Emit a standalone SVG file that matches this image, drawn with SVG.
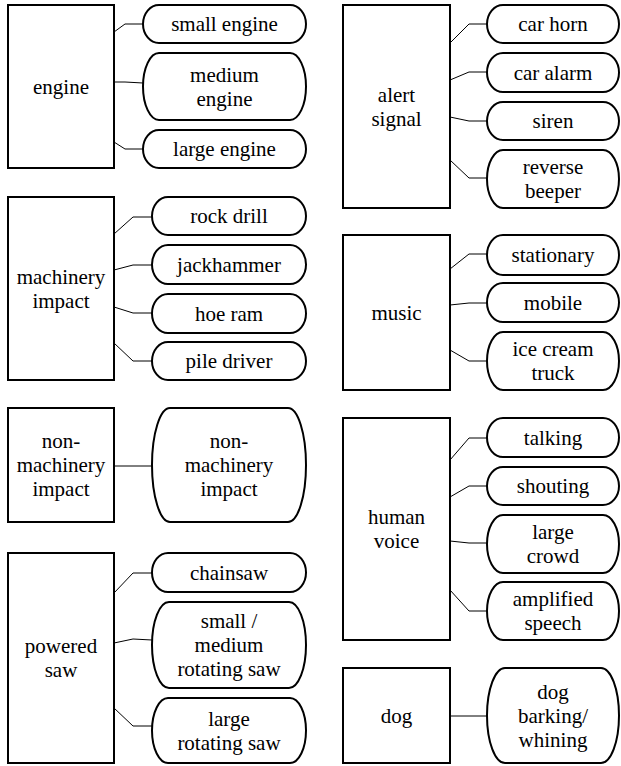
<svg xmlns="http://www.w3.org/2000/svg" width="621" height="766" viewBox="0 0 621 766" font-family="Liberation Serif, DejaVu Serif, Noto Serif, serif" font-size="21" text-anchor="middle">
<style>
.box{fill:#fff;stroke:#000;stroke-width:2}
.pill{fill:#fff;stroke:#000;stroke-width:2}
.c{fill:none;stroke:#000;stroke-width:1}
</style>
<rect width="621" height="766" fill="#fff"/>
<g id="connectors">
<polyline class="c" points="114,32 125,24 143,24"/>
<polyline class="c" points="114,82 125,82 143,83"/>
<polyline class="c" points="114,142 125,149 143,149"/>
<polyline class="c" points="114,234 133,217 152,217"/>
<polyline class="c" points="114,270 133,265 152,265"/>
<polyline class="c" points="114,307 133,313 152,313"/>
<polyline class="c" points="114,343 133,361 152,361"/>
<polyline class="c" points="114,466 152,466"/>
<polyline class="c" points="114,593 133,573 152,573"/>
<polyline class="c" points="114,643 133,639 152,640"/>
<polyline class="c" points="114,708 133,726 152,726"/>
<polyline class="c" points="450,43 469,24 487,24"/>
<polyline class="c" points="450,80 469,72 487,72"/>
<polyline class="c" points="450,117 469,121 487,121"/>
<polyline class="c" points="450,160 469,178 487,178"/>
<polyline class="c" points="450,269 469,254 487,254"/>
<polyline class="c" points="450,305 469,303 487,303"/>
<polyline class="c" points="450,350 469,361 487,361"/>
<polyline class="c" points="450,460 469,438 487,438"/>
<polyline class="c" points="450,497 469,486 487,486"/>
<polyline class="c" points="450,541 469,543 487,543"/>
<polyline class="c" points="450,590 469,611 487,611"/>
<polyline class="c" points="450,716 487,716"/>
</g>
<g id="engine"><rect class="box" x="8" y="5" width="106" height="163"/><text x="61" y="93.5">engine</text></g>
<g id="small-engine"><rect class="pill" x="143" y="5" width="163" height="38" rx="16" ry="19"/><text x="224.5" y="31">small engine</text></g>
<g id="medium-engine"><rect class="pill" x="143" y="53" width="163" height="67" rx="16" ry="33.5"/><text x="224.5" y="81.5">medium</text><text x="224.5" y="105.5">engine</text></g>
<g id="large-engine"><rect class="pill" x="143" y="130" width="163" height="38" rx="16" ry="19"/><text x="224.5" y="156">large engine</text></g>
<g id="machinery-impact"><rect class="box" x="8" y="197" width="106" height="183"/><text x="61" y="283.5">machinery</text><text x="61" y="307.5">impact</text></g>
<g id="rock-drill"><rect class="pill" x="152" y="197" width="154" height="38" rx="16" ry="19"/><text x="229" y="223">rock drill</text></g>
<g id="jackhammer"><rect class="pill" x="152" y="245" width="154" height="39" rx="16" ry="19.5"/><text x="229" y="271.5">jackhammer</text></g>
<g id="hoe-ram"><rect class="pill" x="152" y="294" width="154" height="39" rx="16" ry="19.5"/><text x="229" y="320.5">hoe ram</text></g>
<g id="pile-driver"><rect class="pill" x="152" y="342" width="154" height="38" rx="16" ry="19"/><text x="229" y="368">pile driver</text></g>
<g id="non-machinery-impact"><rect class="box" x="8" y="408" width="106" height="114"/><text x="61" y="448">non-</text><text x="61" y="472">machinery</text><text x="61" y="496">impact</text></g>
<g id="non-machinery-impact-leaf"><rect class="pill" x="152" y="408" width="154" height="114" rx="18" ry="57"/><text x="229" y="448">non-</text><text x="229" y="472">machinery</text><text x="229" y="496">impact</text></g>
<g id="powered-saw"><rect class="box" x="8" y="553" width="106" height="210"/><text x="61" y="653">powered</text><text x="61" y="677">saw</text></g>
<g id="chainsaw"><rect class="pill" x="152" y="553" width="154" height="39" rx="16" ry="19.5"/><text x="229" y="579.5">chainsaw</text></g>
<g id="small-medium-rotating-saw"><rect class="pill" x="152" y="602" width="154" height="86" rx="17" ry="43"/><text x="229" y="628">small /</text><text x="229" y="652">medium</text><text x="229" y="676">rotating saw</text></g>
<g id="large-rotating-saw"><rect class="pill" x="152" y="698" width="154" height="65" rx="16" ry="32.5"/><text x="229" y="725.5">large</text><text x="229" y="749.5">rotating saw</text></g>
<g id="alert-signal"><rect class="box" x="343" y="5" width="107" height="203"/><text x="396.5" y="101.5">alert</text><text x="396.5" y="125.5">signal</text></g>
<g id="car-horn"><rect class="pill" x="487" y="5" width="132" height="38" rx="16" ry="19"/><text x="553" y="31">car horn</text></g>
<g id="car-alarm"><rect class="pill" x="487" y="53" width="132" height="39" rx="16" ry="19.5"/><text x="553" y="79.5">car alarm</text></g>
<g id="siren"><rect class="pill" x="487" y="102" width="132" height="38" rx="16" ry="19"/><text x="553" y="128">siren</text></g>
<g id="reverse-beeper"><rect class="pill" x="487" y="150" width="132" height="58" rx="16" ry="29"/><text x="553" y="174">reverse</text><text x="553" y="198">beeper</text></g>
<g id="music"><rect class="box" x="343" y="235" width="107" height="155"/><text x="396.5" y="319.5">music</text></g>
<g id="stationary"><rect class="pill" x="487" y="235" width="132" height="40" rx="16" ry="20"/><text x="553" y="262">stationary</text></g>
<g id="mobile"><rect class="pill" x="487" y="283" width="132" height="39" rx="16" ry="19.5"/><text x="553" y="309.5">mobile</text></g>
<g id="ice-cream-truck"><rect class="pill" x="487" y="332" width="132" height="58" rx="16" ry="29"/><text x="553" y="356">ice cream</text><text x="553" y="380">truck</text></g>
<g id="human-voice"><rect class="box" x="343" y="418" width="107" height="222"/><text x="396.5" y="524">human</text><text x="396.5" y="548">voice</text></g>
<g id="talking"><rect class="pill" x="487" y="418" width="132" height="39" rx="16" ry="19.5"/><text x="553" y="444.5">talking</text></g>
<g id="shouting"><rect class="pill" x="487" y="467" width="132" height="38" rx="16" ry="19"/><text x="553" y="493">shouting</text></g>
<g id="large-crowd"><rect class="pill" x="487" y="515" width="132" height="58" rx="16" ry="29"/><text x="553" y="539">large</text><text x="553" y="563">crowd</text></g>
<g id="amplified-speech"><rect class="pill" x="487" y="582" width="132" height="58" rx="16" ry="29"/><text x="553" y="606">amplified</text><text x="553" y="630">speech</text></g>
<g id="dog"><rect class="box" x="343" y="668" width="107" height="95"/><text x="396.5" y="722.5">dog</text></g>
<g id="dog-barking-whining"><rect class="pill" x="487" y="668" width="132" height="95" rx="18" ry="47.5"/><text x="553" y="698.5">dog</text><text x="553" y="722.5">barking/</text><text x="553" y="746.5">whining</text></g>
</svg>
